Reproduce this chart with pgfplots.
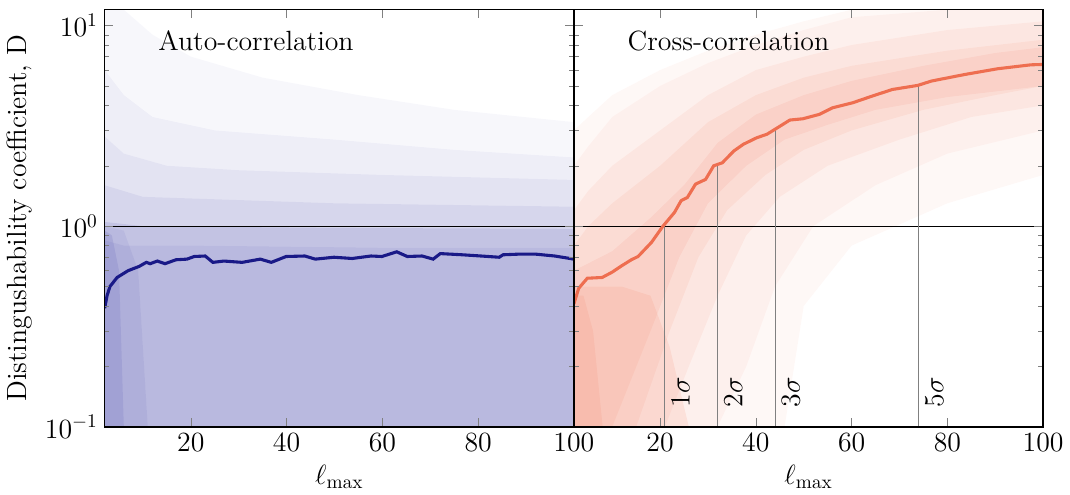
\documentclass[border=0pt]{standalone}
\usepackage{pgfplots}
\pgfplotsset{compat=1.18}
\definecolor{autoblue}{RGB}{25,25,135}
\definecolor{autofill}{RGB}{60,60,165}
\definecolor{crossred}{RGB}{238,110,80}
\definecolor{crossfill}{RGB}{240,115,85}

\begin{document}
\begin{tikzpicture}
% ---------------- auto-correlation ----------------
\begin{axis}[
    name=left,
    scale only axis, width=243pt, height=216pt,
    ymode=log, xmin=2, xmax=100, ymin=0.1, ymax=12,
    xtick={20,40,60,80,100},
    tick align=inside,
    major tick length=4.5pt, minor tick length=2.5pt,
    axis line style={line width=0.8pt},
    tick label style={font=\Large},
    xlabel={$\ell_{\max}$},
    ylabel={Distingushability coefficient, D},
    xlabel style={font=\Large}, ylabel style={font=\Large},
    axis on top,
  ]
  % spread of the individual realisations: stacked translucent bands
  \addplot[draw=none, fill=autofill, fill opacity=0.04] coordinates {
    (2,12) (6,12) (12,9) (20,7) (35,5.5) (55,4.5) (75,3.8) (100,3.3) (100,0.1) (2,0.1)};
  \addplot[draw=none, fill=autofill, fill opacity=0.05] coordinates {
    (2,6) (6,4.5) (12,3.5) (25,3) (50,2.7) (75,2.4) (100,2.2) (100,0.1) (2,0.1)};
  \addplot[draw=none, fill=autofill, fill opacity=0.06] coordinates {
    (2,2.8) (6,2.3) (15,2.0) (30,1.9) (60,1.8) (100,1.7) (100,0.1) (2,0.1)};
  \addplot[draw=none, fill=autofill, fill opacity=0.08] coordinates {
    (2,1.6) (10,1.4) (50,1.3) (100,1.25) (100,0.1) (2,0.1)};
  \addplot[draw=none, fill=autofill, fill opacity=0.12] coordinates {
    (2,1.05) (10,1.0) (50,0.98) (100,0.97) (100,0.1) (2,0.1)};
  \addplot[draw=none, fill=autofill, fill opacity=0.08] coordinates {
    (2,0.85) (6,0.8) (20,0.8) (60,0.78) (100,0.78) (100,0.1) (2,0.1)};
  \addplot[draw=none, fill=autofill, fill opacity=0.08] coordinates {
    (2,1.0) (6,0.95) (9,0.6) (11,0.1) (2,0.1)};
  \addplot[draw=none, fill=autofill, fill opacity=0.12] coordinates {
    (2,0.95) (3.5,0.9) (5,0.6) (6,0.1) (2,0.1)};
  \addplot[black, line width=0.5pt] coordinates {(2,1) (100,1)};
  \addplot[autoblue, line width=1.6pt] coordinates {
    (2,0.39) (2.5,0.45) (3.1,0.50) (4.6,0.555) (6.9,0.60) (9.2,0.63) (10.7,0.66)
    (11.5,0.65) (13,0.67) (14.6,0.65) (16.9,0.68) (19.2,0.685) (20.7,0.706)
    (23,0.71) (24.6,0.66) (26.9,0.67) (30.7,0.66) (34.5,0.685) (36.8,0.66)
    (39.9,0.706) (43.8,0.71) (46,0.685) (49.9,0.70) (53.7,0.69) (57.6,0.71)
    (59.9,0.706) (63,0.745) (65.2,0.706) (68.3,0.71) (70.6,0.685) (72.1,0.73)
    (76.7,0.72) (80.6,0.71) (84.4,0.70) (85.2,0.72) (88.3,0.725) (92.1,0.725)
    (96,0.71) (100,0.685)};
  \node[anchor=west, font=\Large] at (rel axis cs:0.10,0.925) {Auto-correlation};
\end{axis}

% ---------------- cross-correlation ----------------
\begin{axis}[
    at={(left.south east)}, anchor=south west,
    scale only axis, width=243pt, height=216pt,
    ymode=log, xmin=2, xmax=100, ymin=0.1, ymax=12,
    xtick={20,40,60,80,100},
    yticklabels={},
    tick align=inside,
    major tick length=4.5pt, minor tick length=2.5pt,
    axis line style={line width=0.8pt},
    tick label style={font=\Large},
    xlabel={$\ell_{\max}$},
    xlabel style={font=\Large},
    axis on top,
  ]
  \addplot[draw=none, fill=crossfill, fill opacity=0.05] coordinates {
    (2,3) (5,3.5) (10,4.5) (20,6) (30,7.5) (40,9) (50,10.5) (60,12) (100,12)
    (100,1.8) (80,1.3) (60,0.8) (50,0.4) (46,0.1) (2,0.1)};
  \addplot[draw=none, fill=crossfill, fill opacity=0.06] coordinates {
    (2,2) (5,2.5) (10,3.5) (20,5) (30,6.5) (40,8) (50,9.5) (60,11) (80,12) (100,12)
    (100,3) (80,2.3) (65,1.6) (52,1.0) (44,0.5) (38,0.2) (32,0.1) (2,0.1)};
  \addplot[draw=none, fill=crossfill, fill opacity=0.08] coordinates {
    (2,1.2) (5,1.5) (10,2) (20,3) (30,4.5) (40,6) (50,7) (60,8) (80,9.5) (100,10.5)
    (100,4) (85,3.5) (70,2.7) (55,2) (45,1.4) (38,0.9) (32,0.45) (26,0.2) (21,0.1) (2,0.1)};
  \addplot[draw=none, fill=crossfill, fill opacity=0.09] coordinates {
    (2,0.8) (5,1) (10,1.3) (20,2) (30,3.3) (40,4.5) (50,5.5) (60,6.3) (80,7.5) (100,8.5)
    (100,5) (90,4.5) (75,3.8) (60,3) (50,2.4) (42,1.8) (34,1.2) (28,0.7) (22,0.3) (15,0.1) (2,0.1)};
  \addplot[draw=none, fill=crossfill, fill opacity=0.10] coordinates {
    (2,0.6) (10,0.75) (18,1.1) (25,1.6) (32,2.6) (40,3.6) (50,4.5) (60,5.3) (75,6.3) (90,7.3) (100,7.8)
    (100,5) (80,4.4) (65,3.8) (55,3.2) (46,2.7) (38,2.0) (30,1.3) (24,0.7) (18,0.3) (10,0.1) (2,0.1)};
  \addplot[draw=none, fill=crossfill, fill opacity=0.12] coordinates {
    (2,0.5) (12,0.5) (18,0.45) (22,0.25) (26,0.1) (2,0.1)};
  \addplot[draw=none, fill=crossfill, fill opacity=0.12] coordinates {
    (2,0.45) (4,0.45) (6,0.3) (8,0.1) (2,0.1)};
  \addplot[black, line width=0.5pt] coordinates {(2,1) (100,1)};
  \addplot[gray, line width=0.5pt] coordinates {(21,0.1) (21,1.0)};
  \addplot[gray, line width=0.5pt] coordinates {(32,0.1) (32,2.0)};
  \addplot[gray, line width=0.5pt] coordinates {(44,0.1) (44,3.04)};
  \addplot[gray, line width=0.5pt] coordinates {(74,0.1) (74,5.03)};
  \addplot[crossred, line width=1.6pt] coordinates {
    (2,0.41) (3,0.49) (4.8,0.55) (7.9,0.555) (10,0.59) (12,0.635) (14,0.68)
    (15.4,0.706) (18.2,0.83) (20.6,1.0) (23,1.17) (24.4,1.34) (25.7,1.39)
    (27.4,1.62) (29.5,1.71) (31.2,2.0) (33,2.07) (35.4,2.37) (37.4,2.56)
    (40.2,2.76) (42.3,2.87) (44,3.04) (47.1,3.38) (49.8,3.43) (53.3,3.61)
    (56,3.89) (60.2,4.12) (64.3,4.45) (68.5,4.80) (73.8,5.03) (76.7,5.29)
    (83.6,5.70) (90.5,6.09) (97.4,6.37) (100,6.40)};
  \node[rotate=90, anchor=north west, font=\Large] at (axis cs:21,0.116) {$1\sigma$};
  \node[rotate=90, anchor=north west, font=\Large] at (axis cs:32,0.116) {$2\sigma$};
  \node[rotate=90, anchor=north west, font=\Large] at (axis cs:44,0.116) {$3\sigma$};
  \node[rotate=90, anchor=north west, font=\Large] at (axis cs:74,0.116) {$5\sigma$};
  \node[anchor=west, font=\Large] at (rel axis cs:0.10,0.925) {Cross-correlation};
\end{axis}
\path (left.north) -- ++(0,5pt);
\end{tikzpicture}
\end{document}
